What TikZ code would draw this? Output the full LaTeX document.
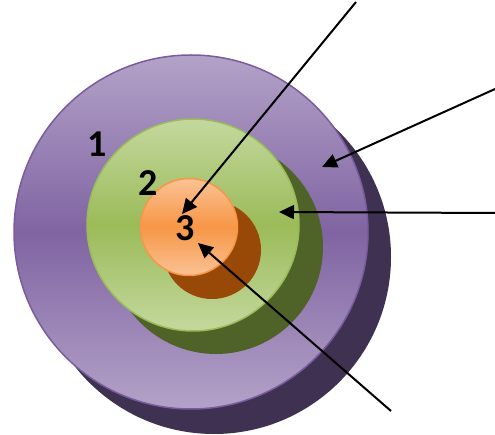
\documentclass[tikz,border=0pt]{standalone}
\usepackage{fontspec}
\setmainfont{Carlito}
\usetikzlibrary{arrows.meta}
\definecolor{purpL}{HTML}{B3A2C8}
\definecolor{purpM}{HTML}{8064A2}
\definecolor{purpE}{HTML}{7A5C9E}
\definecolor{purpD}{HTML}{3F3151}
\definecolor{grnL}{HTML}{C4D89E}
\definecolor{grnM}{HTML}{9BBB59}
\definecolor{grnD}{HTML}{4F6228}
\definecolor{orL}{HTML}{FAC295}
\definecolor{orM}{HTML}{F79646}
\definecolor{orD}{HTML}{984807}
\tikzset{
  disc/.style={circle, inner sep=0pt, minimum size=#1},
  lbl/.style={font=\fontsize{38}{38}\selectfont\bfseries, inner sep=0pt},
  ptr/.style={draw=black, line width=2pt, -{Triangle[length=15pt,width=14pt]}}
}
\begin{document}
\begin{tikzpicture}[x=1pt,y=-1pt]
\useasboundingbox (0,0) rectangle (495,435);
% purple
\node[disc=354pt, fill=purpD] (pshadow) at (214,257) {};
\node[disc=354pt, draw=purpE, line width=1.5pt, top color=purpL, bottom color=purpL, middle color=purpM] (outer) at (191,232) {};
% green
\node[disc=214pt, fill=grnD] (gshadow) at (216,247) {};
\node[disc=212pt, draw=grnM, line width=1.5pt, top color=grnL, bottom color=grnL, middle color=grnM] (middle) at (193,225) {};
% orange
\node[disc=98pt, fill=orD] (oshadow) at (212,250) {};
\node[disc=97pt, draw=orM, line width=1.5pt, top color=orL, bottom color=orL, middle color=orM] (inner) at (189,227) {};
% labels
\node[lbl] (l1) at (97,144) {1};
\node[lbl] (l2) at (148,183) {2};
\node[lbl] (l3) at (185,228) {3};
% arrow ends
\coordinate (s1) at (356,2);
\coordinate (t1) at (182,214);
\coordinate (s2) at (495,89);
\coordinate (t2) at (322,167);
\coordinate (s3) at (495,213);
\coordinate (t3) at (279,212);
\coordinate (s4) at (391,411);
\coordinate (t4) at (198,243);
\draw[ptr] (s1) -- (t1);
\draw[ptr] (s2) -- (t2);
\draw[ptr] (s3) -- (t3);
\draw[ptr] (s4) -- (t4);
\end{tikzpicture}
\end{document}
